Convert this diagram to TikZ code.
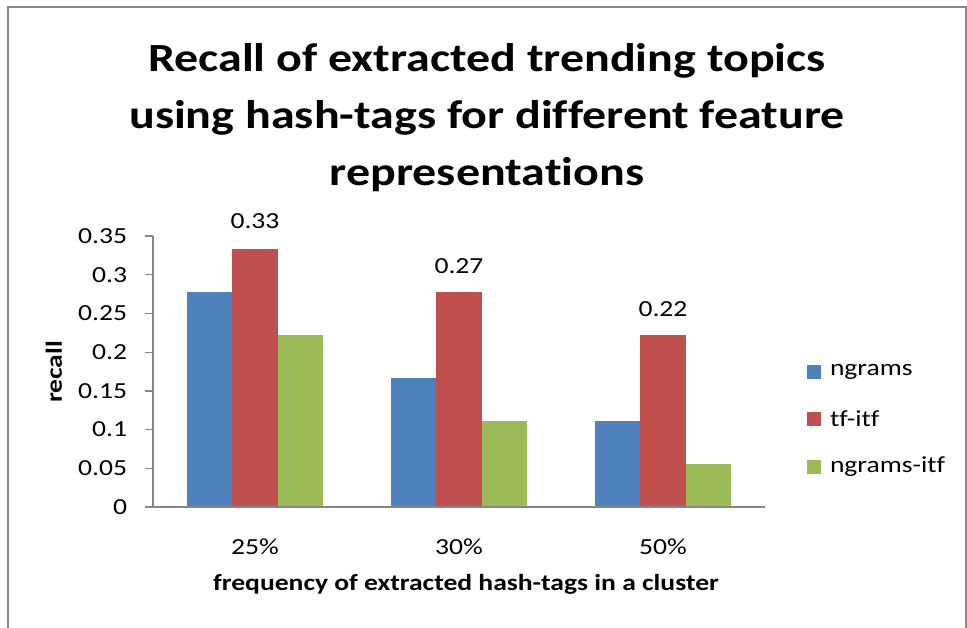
\documentclass[tikz,border=0pt]{standalone}
\usepackage{fontspec}
\setmainfont[FakeStretch=1.2,RawFeature={-liga}]{Carlito}
\definecolor{frame}{HTML}{888888}
\definecolor{axisgray}{HTML}{868686}
\definecolor{sblue}{HTML}{4F81BD}
\definecolor{sred}{HTML}{C0504D}
\definecolor{sgreen}{HTML}{9BBB59}
\begin{document}
\begin{tikzpicture}[x=1pt,y=-1pt,
  every node/.style={inner sep=0pt,outer sep=0pt},
  ttl/.style={font=\fontsize{40}{48}\selectfont\bfseries,anchor=base},
  lbl/.style={font=\fontsize{23}{27}\selectfont},
  axt/.style={font=\fontsize{23}{27}\selectfont\bfseries},
  axisline/.style={draw=axisgray,line width=1.3pt}]
  \useasboundingbox (0,0) rectangle (967,628);
  % chart frame (open at the bottom)
  \draw[frame,line width=2pt] (7.5,628) -- (7.5,7.5) -- (965.5,7.5) -- (965.5,628);
  % title
  \node[ttl] (t1) at (487,72) {Recall of extracted trending topics};
  \node[ttl] (t2) at (487,129) {using hash-tags for different feature};
  \node[ttl] (t3) at (487,186) {representations};
  % bars: group width 204, bar width 45.3
  \def\ys{774.3} % pixels per unit of recall (38.7 per 0.05)
  \foreach \g/\a/\b/\c in {0/0.27778/0.33333/0.22222, 1/0.16667/0.27778/0.11111, 2/0.11111/0.22222/0.05556}{
    \pgfmathsetmacro\xl{187+204*\g}
    \fill[sblue]  (\xl,507) rectangle ++(45.3,-\a*\ys);
    \fill[sred]   (\xl+45.3,507) rectangle ++(45.3,-\b*\ys);
    \fill[sgreen] (\xl+90.6,507) rectangle ++(45.3,-\c*\ys);
  }
  % axes
  \coordinate (o) at (153,507);
  \coordinate (ytop) at (153,236);
  \coordinate (xend) at (765,507);
  \draw[axisline] (ytop) -- (o) -- (xend);
  \foreach \v [count=\i from 0] in {0,0.05,0.1,0.15,0.2,0.25,0.3,0.35}{
    \pgfmathsetmacro\yy{507-38.7*\i}
    \draw[axisline] (145,\yy) -- (153,\yy);
    \node[lbl,anchor=east] (tick\i) at (127,\yy) {\v};
  }
  % data labels for tf-itf
  \node[lbl] (d1) at (255,221) {0.33};
  \node[lbl] (d2) at (459,266) {0.27};
  \node[lbl] (d3) at (663,309) {0.22};
  % category labels
  \node[lbl,anchor=base] (c1) at (255,554) {25\%};
  \node[lbl,anchor=base] (c2) at (459,554) {30\%};
  \node[lbl,anchor=base] (c3) at (663,554) {50\%};
  % axis titles
  \node[axt,anchor=base] (xt) at (466,590) {frequency of extracted hash-tags in a cluster};
  \node[axt,rotate=90] (yt) at (54,372) {recall};
  % legend
  \fill[sblue]  (807,365) rectangle ++(14,14);
  \fill[sred]   (807,412) rectangle ++(14,14);
  \fill[sgreen] (807,460) rectangle ++(14,14);
  \node[lbl,anchor=west] (l1) at (830,372) {ngrams};
  \node[lbl,anchor=west] (l2) at (830,419) {tf-itf};
  \node[lbl,anchor=west] (l3) at (830,467) {ngrams-itf};
\end{tikzpicture}
\end{document}
